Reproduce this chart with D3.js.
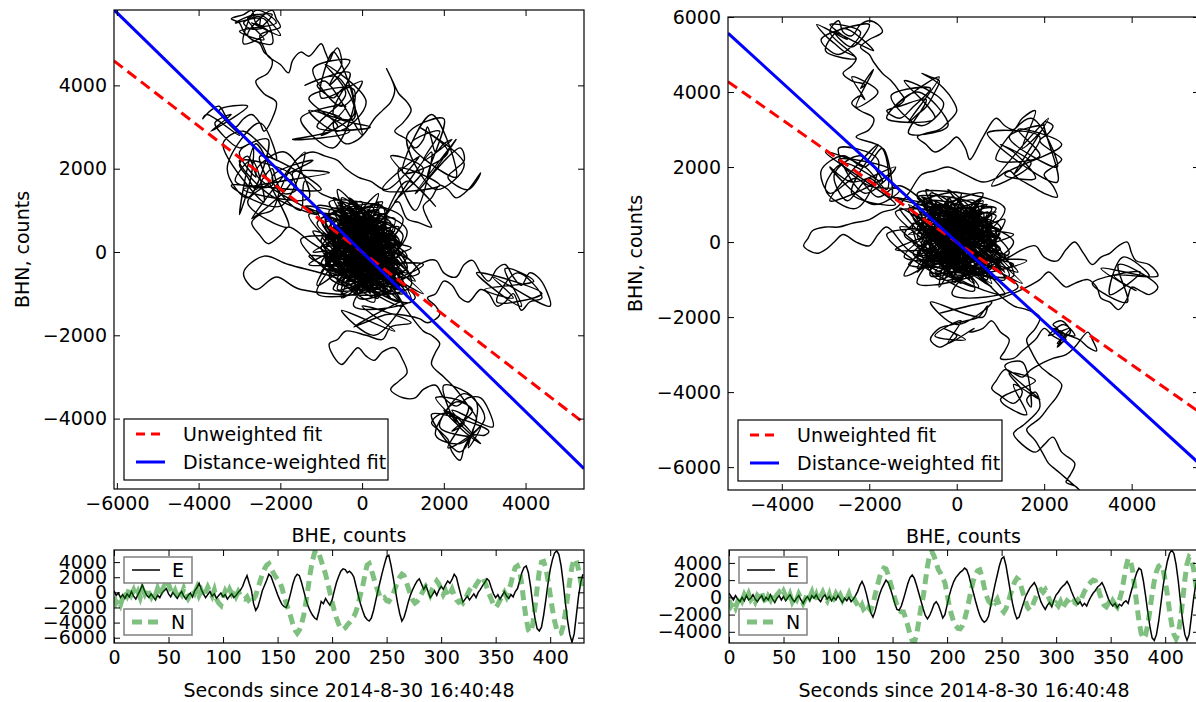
<!DOCTYPE html>
<html>
<head>
<meta charset="utf-8">
<script src="https://cdn.jsdelivr.net/npm/d3@7"></script>
<style>
  body { margin: 0; background: #fff; }
  svg text { font-family: "DejaVu Sans", sans-serif; font-size: 19px; fill: #000; }
</style>
</head>
<body>
<script>
// sample spacing of the traces, seconds
var dt = 2;

// left station, E and N traces (counts), one value every dt seconds from t=0
var eLeft = [200,-400,-100,-700,-300,-800,-200,-600,100,-500,
  -900,-300,300,1000,200,-400,-700,-200,-600,-1000,
  -400,-700,-100,200,500,-200,-600,0,-400,-800,
  -300,100,-500,-900,-400,-100,-600,200,600,1200,
  400,-200,-700,-300,100,-500,-200,-800,-400,-100,
  -600,-300,-900,-500,-200,-700,-400,0,300,800,
  1600,2200,1200,300,-1500,-2400,-1900,-900,200,900,
  1600,2400,2100,1300,500,-300,-1000,-1600,-1900,-2000,
  -1200,-100,1100,2000,2400,2200,1300,200,-900,-1800,
  -2500,-3000,-3400,-3600,-2500,-1200,-1500,-800,-1300,-1700,
  -1000,200,1300,2100,2800,3100,3000,2600,2800,2500,
  2000,800,-400,-1500,-2400,-3200,-3600,-3800,-3400,-2400,
  -1100,200,1400,2600,3700,4700,4900,3600,2000,300,
  -1400,-2800,-3800,-3300,-2300,-1200,-300,400,1000,1500,
  1800,1100,400,900,100,-700,-300,200,-400,300,
  800,400,1000,1500,1200,1700,2400,2000,800,-300,
  -1300,-900,-500,-1000,-600,-200,-700,0,400,900,
  1300,1800,1500,600,-200,-700,-300,-900,-400,100,
  -500,-800,-300,-600,100,500,1500,2600,3300,3500,
  2600,800,-1500,-3400,-4800,-5100,-4600,-3000,-1000,1200,
  3000,4300,5200,5500,5000,3500,1200,-1500,-3800,-5600,
  -6600,-5500,-3000,-500,1300,2400];

var nLeft = [-600,-1400,-900,-1600,-700,200,-400,500,-300,300,
  -500,100,-700,400,-200,600,-100,-600,200,-400,
  500,-300,300,800,400,1100,300,-400,200,-600,
  100,-300,500,-200,-800,-300,400,-100,600,-400,
  200,-600,0,700,100,-500,300,-900,-1400,-1700,
  -600,200,-300,400,-200,300,-500,100,-400,-800,
  -900,-600,-1200,-1500,-900,-400,600,1500,2400,3100,
  3600,3800,3200,2600,2100,1700,1400,600,-500,-1500,
  -2300,-3200,-4200,-5000,-5400,-5000,-4200,-3000,-1300,600,
  2600,4200,5300,5600,5100,4200,3300,2400,1200,0,
  -1300,-2400,-3400,-4200,-4800,-4900,-4700,-4300,-4000,-3600,
  -3200,-2500,-1500,-300,800,2200,3600,3800,3000,2000,
  1000,200,-600,-900,-700,-1100,-1200,-800,-200,600,
  1400,2000,2400,2200,1400,500,-300,-1000,-1400,-1200,
  -800,-200,300,800,400,-300,500,1000,1500,1100,
  400,-300,200,-600,-200,400,-400,-1000,-1300,-1100,
  -1400,-900,-300,300,700,400,1000,1400,1900,2000,
  1400,600,-200,-900,-1600,-2000,-1600,-1000,-500,0,
  -600,200,1200,2400,3300,3500,2800,1000,-1500,-3500,
  -5000,-5300,-4200,-2000,500,2800,4000,4100,3200,1600,
  -300,-2200,-3800,-4900,-5500,-5400,-4400,-2600,-500,1600,
  3400,4400,4200,3000,1400,0];

// right station, E and N traces
var eRight = [500,100,-300,200,-200,-500,0,-400,200,-300,
  -100,300,-200,-500,-100,200,-400,0,-300,300,
  -200,-600,-100,200,-300,100,-400,0,300,-200,
  -500,-100,200,-300,-700,-200,100,-400,200,-100,
  300,-200,-500,0,300,-200,100,-400,0,-300,
  200,-200,-600,-100,-400,0,-500,-200,200,700,
  1400,1860,1300,400,-700,-1800,-2300,-1600,-600,300,
  1000,1500,2000,1700,1000,200,-700,-1400,-1500,-1000,
  -200,700,1600,2300,2600,2200,1400,500,-400,-1300,
  -2100,-2500,-2100,-1500,-800,-500,-900,-1600,-2400,-2000,
  -900,200,1100,1800,2300,2600,2900,3100,3400,3200,
  2500,1500,600,-400,-1300,-2100,-2600,-2900,-2700,-2200,
  -1000,300,1500,2600,3700,4500,4700,3700,2200,700,
  -700,-1800,-2500,-2300,-1500,-700,100,600,1100,1400,
  1700,1200,300,-500,-1000,-1400,-900,-600,-1100,-300,
  300,600,1000,1300,1500,1860,1400,700,100,-400,
  -800,-500,-1000,-700,-1000,-400,100,500,800,1200,
  1400,1700,1200,500,-200,-700,-1000,-700,-1200,-800,
  -1000,-600,-400,-700,300,1200,2100,2900,3400,3200,
  1900,200,-1700,-3400,-4700,-5000,-4300,-2800,-800,1200,
  2900,4200,5100,5480,5100,3800,1900,-500,-2700,-4300,
  -5000,-4300,-2300,-200,1500,2500];

var nRight = [-300,-1000,-600,-1200,-500,100,-400,300,-200,400,
  -300,0,-500,200,-100,500,-200,-600,100,-300,
  400,-100,300,600,200,700,100,-400,300,-500,
  0,-300,400,-100,-700,-200,500,0,600,-300,
  300,-500,100,600,0,-400,300,-600,-200,400,
  -100,300,-300,200,-200,400,-300,100,-500,-900,
  -1400,-900,-1600,-1800,-1200,-1500,-800,300,1300,2300,
  3000,3400,3300,2600,1700,800,-100,-900,-1500,-1700,
  -1700,-2400,-3300,-4300,-5000,-5200,-4400,-2800,-1200,0,
  1800,3600,5000,5300,4800,4000,3200,2800,2200,1700,
  400,-1000,-2000,-2800,-3300,-3600,-3650,-3300,-2600,-1600,
  -400,800,1900,2700,3100,3200,2400,1200,200,-400,
  -700,-300,-600,-200,-900,-1400,-1700,-1300,-600,300,
  1100,1800,2200,2000,1200,300,-500,-1200,-1500,-1100,
  -400,200,700,900,600,900,300,-300,-800,-1100,
  -700,-1000,-500,-1200,-800,-400,-600,-900,-500,-700,
  -300,-600,100,700,1100,1500,1800,2000,1900,1300,
  400,-400,-900,-1100,-700,-1000,-400,-800,-1100,-300,
  600,2000,3500,4500,4300,3200,1200,-900,-2800,-4200,
  -4800,-4400,-3200,-1500,400,1900,3000,3600,3800,3300,
  2000,300,-1600,-3200,-4300,-4800,-4200,-2600,-400,2000,
  3900,4700,4500,3300,1600,-200];

// particle motion, [BHE, BHN] in counts
var motionLeft = [
  // dense core
  [0,0],[500,-300],[-200,400],[800,-600],[-600,700],[300,200],[-900,100],[1000,-900],[-300,1100],[600,-100],
  [-1200,500],[200,-700],[-500,1300],[1100,-400],[-800,-300],[400,900],[-100,-1000],[900,300],[-1300,900],[700,-1100],
  [-400,200],[1300,-700],[-700,1000],[100,-400],[-1000,-500],[600,700],[-200,-200],[1200,100],[-1500,300],[300,-1200],
  [-600,1500],[900,-300],[-300,600],[1500,-1000],[-900,700],[0,1200],[-1100,-800],[500,400],[-400,-700],[1000,800],
  [-800,1200],[200,-100],[-1300,-100],[800,-800],[-100,900],[1200,-1200],[-700,-200],[400,1400],[-500,-1000],[1100,500],
  [-1000,1400],
  // up to the upper left and the top
  [-1400,1700],
  [-1500,1000],[-2200,1800],[-1200,2200],[-2800,1200],[-1800,600],[-2500,2300],[-1000,1500],[-3200,1600],[-2000,1100],[-1400,2400],
  [-2700,800],[-1700,1800],[-3000,2200],[-2300,1400],[-1100,900],[-2600,1900],[-1900,2400],[-1300,1300],[-2900,1500],[-800,1900],
  [-1700,1900],[-1600,1500],[-1900,1400],[-2100,1700],[-2200,2000],[-2400,1800],[-2600,1500],[-2800,1800],[-3000,2100],
  [-2800,2300],
  [-2600,1800],[-3000,2400],[-2300,2700],[-2800,1300],[-3300,2000],[-2500,3100],[-2100,2200],[-2900,2900],[-3400,2600],[-2400,1200],
  [-2700,2200],[-3100,1700],[-2200,1600],[-2600,2600],[-3000,900],[-2700,1900],
  [-2700,2600],[-3000,2500],[-3400,2800],[-3600,3100],
  [-3200,3300],[-3700,2900],[-2800,3500],[-3500,3400],[-3000,2800],[-3800,3300],
  [-3900,3200],[-3700,3400],[-3500,3500],[-3300,3200],[-3100,3000],
  [-2900,3200],[-2700,3300],[-2500,3100],[-2400,2900],[-2200,3200],[-2100,3600],[-2400,3800],[-2600,4100],[-2300,4300],[-2200,4600],
  [-2400,4800],[-2500,5000],[-2700,5100],[-2900,5300],[-3000,5500],[-3200,5600],[-2900,5700],[-2700,5800],[-2600,5500],[-2400,5400],
  [-2700,5350],[-2900,5500],[-2500,5650],
  [-2500,5400],[-2200,5700],[-2800,5600],[-2400,5100],[-3000,5300],[-2100,5500],[-2600,5800],[-2900,5000],[-2300,5300],[-2700,5500],
  [-2000,5200],[-2500,5700],[-3100,5500],[-2400,5600],[-2200,5000],[-2800,5200],
  [-2200,5800],[-2100,5600],[-2000,5400],[-2300,5300],[-2500,5200],[-2400,4900],[-2300,4700],
  [-2000,4500],[-1800,4300],[-1700,4600],[-1500,4800],[-1300,4700],[-1000,5000],[-900,4800],[-800,4600],[-700,4800],[-600,4900],
  [-500,4500],[-700,4200],
  [-800,4000],[-300,4600],[-1200,4400],[-500,3500],[0,4100],[-1000,3700],[-700,4800],[-200,3200],[-1300,3400],[-600,2900],
  [100,3600],[-900,4500],[-400,3800],[-1100,3000],[200,3000],[-700,3300],[-300,4300],[-1400,4000],[-600,4200],[0,2800],
  [-900,4100],[-1100,4000],[-900,3800],[-700,3700],[-500,3900],[-300,4000],[-200,3600],[-200,3300],
  [-1000,2800],[-400,3500],[-1500,3200],[-700,2500],[-200,3900],[-1300,3700],[-600,3000],[-1700,2700],[-300,2900],[-1100,3400],
  [-500,3200],[-700,3100],[-600,2800],[-400,2600],[-100,2700],[100,2900],[300,3200],[500,3400],[700,3600],[800,3900],
  [700,4200],[600,4400],[750,4100],[900,3800],[1100,3600],[1200,3400],[1000,3100],[800,2900],[1100,2700],[1300,2500],
  [1500,2700],[1600,3000],[1700,2700],[1800,2400],[2000,2600],[2200,2700],
  [1500,2200],[1900,2900],[1200,2600],[2300,1800],[1700,3300],[1000,1900],[2100,2400],[1400,3000],[2500,2100],[1800,1500],
  [1100,2800],[2000,3200],[1600,1800],[2300,2700],[1300,1400],
  [2400,2500],[2500,2200],[2300,2000],[2100,1800],
  [2300,1600],[2600,1500],[2800,1700],[2900,1900],[2600,1500],[2300,1300],[2100,1500],[1900,1600],[1700,1300],[1500,1100],
  [1600,800],[1700,600],[1400,700],[1100,800],[900,1200],
  [800,1200],[1500,2000],[700,2300],[1800,1100],[1100,1700],[600,900],[1700,2400],[1300,1000],[900,2000],[1900,1600],
  [500,1500],[1400,2300],
  [600,1500],[200,1700],[-100,1800],[-400,2000],[-600,2200],
  [-900,2300],[-1200,2400],[-1500,2300],[-1700,2100],[-2000,1500],[-2200,1000],[-2500,900],[-2700,700],[-2500,400],[-2300,200],
  [-2000,400],[-1800,600],
  // back through the core
  [-1200,200],[600,-800],[-500,900],[1400,-500],[-900,-400],[300,1000],[-300,-800],[1100,-100],[-1400,1100],[800,400],
  [-200,-1300],[1300,-1100],[-700,400],[500,1200],[-1100,-1000],[900,-600],[0,700],[-600,-200],[1500,-300],[200,-900],
  // right wing
  [1100,-600],[1400,-300],[1800,-200],[2000,-500],[2300,-600],[2500,-300],[2700,-200],[2900,-500],[3100,-700],[3300,-400],
  [3500,-300],[3700,-600],[3900,-800],[4100,-500],[4300,-600],[4500,-900],[4600,-1300],
  [3200,-600],[3700,-1100],[3000,-900],[4200,-700],[3500,-400],[3900,-1300],[2800,-500],[4400,-1000],[3300,-1200],[3800,-500],
  [4400,-1100],[4100,-1200],[3900,-1400],
  [3700,-1000],[3500,-1200],[3300,-1300],[3100,-1000],[2900,-900],[2600,-1200],[2400,-1100],[2200,-800],[2000,-700],[1800,-1000],
  [1600,-1100],[1800,-1300],[1900,-1500],[1600,-1700],[1400,-1600],
  // down to the lower right
  [900,-1500],
  [600,-1500],[-200,-1800],[1000,-1200],[300,-2000],[-500,-1400],[800,-1900],[0,-1300],[1200,-1700],
  [700,-1800],[500,-2100],[100,-2000],[-400,-1900],[-600,-2100],[-800,-2200],[-700,-2500],[-500,-2700],[-300,-2500],
  [-100,-2300],[100,-2500],[300,-2600],[500,-2400],[800,-2300],[1000,-2600],[1100,-2900],[900,-3100],[700,-3300],[1000,-3500],
  [1300,-3500],[1500,-3300],[1800,-3200],[2000,-3500],[2300,-3700],[2600,-3500],[2900,-3500],[3100,-3800],[3200,-4200],
  [2200,-3800],[2700,-4400],[1900,-4200],[2500,-3400],[3000,-4000],[2100,-4700],[2600,-3700],[1800,-3500],[2900,-4600],[2300,-4100],
  [2000,-3200],[2800,-3600],[2400,-4800],[1700,-3900],[3100,-4300],
  [3000,-4400],
  [2700,-4400],[2500,-4700],[2400,-5000],[2200,-4800],[2100,-4500],[1900,-4300],[1700,-4100],[1900,-3900],[2200,-3900],[2400,-4200],
  [2000,-3800],[2500,-4100],[2200,-4300],[2700,-3800],[2300,-3600],[1800,-4400],[2400,-4600],[2900,-4200],
  [2600,-4700],[2700,-4300],[2800,-4000],[2600,-3700],[2300,-3300],[2000,-3000],[1700,-2700],[1800,-2400],[1900,-2200],[1700,-2000],
  [1500,-1900],
  // core again, with a loop to the left
  [800,-1000],[-400,500],[1000,200],[-1000,800],[400,-1100],[-700,-600],[-1800,-300],[-2400,-100],[-2900,-500],[-2600,-900],
  [-2100,-600],[-1500,-900],[1200,-800],[-300,1300],[700,100],[-1300,-300],[200,600],[-600,1100],[1000,-1300],[-200,-500],
  [600,900],[-900,300],
  [-200,300],[400,-500],[-600,100],[700,400],[-300,-700],[200,900],[-800,600],[600,-200],[-100,-300],[900,-800],
  [-500,1000],[300,100],[-900,-200],[500,600],[0,-900],[-700,300],[800,100],[-400,800],[100,-600],[-1000,400],
  [700,-500],[-200,1100],[400,300],[-600,-500],[1000,0],[-300,500],[200,-1000],[-800,900],[600,200],[-100,-100],
  [-500,-800],[900,600],[-700,0],[300,-300],[-200,900],[800,-1000],[-1000,100],[100,700],[500,-700],[-400,-300],
  [600,1000],[-900,800],[200,-400],[-300,200],[1100,-500],[-600,1200],[0,400],[700,-900],[-800,-600],[400,700],
  [-200,-500],[900,300],[-500,500],[200,-200],[-1100,700],[500,1100],[100,-800],[-400,1000],[800,-300],[-700,-300],
  [300,500],[-100,-1100],[1000,-700],[-900,400],[400,-100],[-300,-900],[600,800],[-600,300],[100,100],[-200,-600],
  [700,700],[-800,1000],[300,-800],[-500,-100],[900,-100],[-300,800],[200,300],[-700,-900],[600,-600],[0,1000],
  [-400,0],[800,500],[-900,-400],[400,1200],[-100,-400],[1000,-1000],[-600,800],[200,0],[-300,-200],[500,-400],
  [300,200],[-500,-600],[800,-300],[-200,900],[-900,-100],[500,-1000],[0,500],[-700,800],[1000,-500],[-400,-200],
  [600,600],[-1000,300],[200,-800],[-300,1200],[900,0],[-600,-900],[400,1000],[-800,400],[700,-800],[-100,-200],
  [1100,-1000],[-500,700],[100,300],[-1200,0],[800,800],[-200,-1000],[500,100],[-700,1300],[300,-500],[-900,600],
  [1200,-200],[-400,400],[0,-700],[-1100,1100],[700,300],[-300,-400],[900,-1200],[-600,500],[200,1100],[-800,-400],
  [600,-100],[-100,800],[1000,400],[-500,-1100],[300,700],[-1000,-300],[800,-600],[-300,1000],[100,-300],[-700,200],
  [100,200],[-500,-300],[600,500],[-700,600],[400,-600],[-200,900],[800,-200],[-600,-700],[200,700],[-900,300],
  [700,-700],[-300,100],[500,900],[-800,-100],[0,-500],[-400,700],[900,200],[-100,-800],[300,400],[-700,-400],
  [600,-400],[-500,1000],[200,-200],[-900,700],[800,600],[-300,-600],[400,100],[-600,400],[100,-900],[-200,500],
  [700,300],[-800,900],[500,-800],[-400,-100],[0,800],[900,-500],[-600,200],[300,-400],[-100,600],[600,-900],
  [-900,-200],[400,800],[-300,300],[800,-100],[-500,-800],[100,500],[-700,1000],[700,-300],[-200,-400],[500,400],
  [-800,500],[200,-700],[-400,900],[900,-800],[0,100],[-600,-500],[600,700],[-300,-200],[300,1000],[-900,0],
  [800,-600],[-100,300],[400,-100],[-700,800],[100,-600],[-500,600],[700,100],[-200,-900],[500,-200],[-800,200],
  [0,0]
];

var motionRight = [
  // dense core
  [0,0],[600,-400],[-300,500],[900,-700],[-700,600],[300,300],[-1000,0],[1100,-1000],[-400,1000],[700,-100],
  [-1300,400],[200,-800],[-600,1300],[1200,-300],[-900,-400],[500,800],[-100,-1100],[1000,400],[-1400,800],[800,-1200],
  [-500,100],[1400,-800],[-800,1100],[0,-500],[-1100,-600],[700,600],[-300,-300],[1300,200],[-1600,200],[400,-1300],
  [-700,1400],[1000,-400],[-200,700],[1500,-1100],[-1000,900],[100,1300],[-1200,-900],[600,300],[-400,-800],[1100,900],
  [-900,1300],[300,-200],
  // left cluster, then up to the top
  [-1300,1500],[-1800,1200],[-2300,1700],[-2900,1300],[-3100,1900],[-2600,2300],[-2100,2000],[-1700,2500],
  [-1500,1200],[-2000,1700],[-2500,1100],[-2800,1800],[-2200,2300],[-1700,1600],[-2600,2100],[-3000,1400],[-2300,900],[-1800,2200],
  [-2700,2500],[-2100,1300],[-1400,2000],[-2400,1600],[-2900,2000],[-1900,1000],[-1300,1400],
  [-2000,1500],[-2700,2200],[-1500,1900],[-2900,1100],[-1800,2600],[-2400,1300],[-1400,1000],[-3000,2400],[-2100,2000],[-1600,1400],
  [-1700,2500],
  [-2300,2800],[-2000,3000],[-1900,3300],[-2200,3500],[-2400,3700],[-2200,3900],
  [-2100,3800],[-2400,4400],[-1800,4000],[-2300,3600],[-1900,4600],[-2200,4100],
  [-2100,4200],[-2400,4300],[-2600,4500],[-2400,4700],
  [-2300,4900],[-2600,5100],[-2800,5300],[-3000,5500],[-3200,5800],
  [-2500,5400],[-2900,5800],[-2200,5600],[-2700,5000],[-3100,5400],[-2000,5800],[-2400,5200],[-2800,5600],[-1900,5100],[-2600,5700],
  [-3000,5100],[-2300,4900],
  [-2900,5600],[-2700,5900],[-2600,5600],[-2400,5500],[-2200,5800],
  [-2000,5900],[-1800,5800],[-1700,5600],[-2000,5400],[-2200,5200],[-2000,5000],[-1900,4800],[-1700,4500],[-1500,4300],[-1300,4000],
  [-1200,3800],[-1400,3600],[-1600,3500],[-1300,3300],
  [-1000,3600],[-600,4100],[-1500,3900],[-800,3100],[-300,3700],[-1200,4300],[-500,3300],[-1600,3300],[-900,4000],[-200,3100],
  [-1100,2900],[-700,3800],[-1400,3600],[-400,4400],
  [-1100,3200],[-900,3400],[-700,3600],[-500,4000],[-400,4300],[-600,4400],
  [-800,4500],[-500,4300],[-300,4100],[-100,3800],[0,3500],[-200,3200],[-400,3000],[-700,2900],[-900,2800],[-700,2600],
  [-500,2400],[-200,2600],[0,2800],[200,2500],[300,2200],[600,2800],[900,3300],[1100,3100],[1300,3000],[1500,3300],
  [1800,3500],
  [1500,2500],[2000,3100],[1200,2800],[2300,2000],[1700,3300],[900,2200],[1900,2300],[1400,3000],[2400,2600],[1100,1800],
  [1800,1700],[1300,2400],
  [1000,2600],[1700,2100],[800,1500],[2100,3300],[1300,1800],[1900,2800],[700,2900],[2300,1600],
  [2000,3200],[2200,3100],[2100,2900],[1900,2700],[2200,2400],[2400,2200],[2200,2000],[2000,1800],[2200,1500],
  [2300,1200],[2000,1300],[1700,1500],[1400,1700],[1200,1900],[900,1700],[600,1600],[200,1800],[-200,2000],[-500,1900],
  [-800,1800],[-1100,1300],[-1400,900],[-1700,800],[-2000,600],[-2400,500],[-2700,400],[-3000,400],[-3300,300],[-3400,100],
  [-3500,-100],[-3200,-300],[-3000,-200],[-2800,0],[-2600,200],[-2300,0],[-2000,-100],[-1800,200],[-1600,400],
  // back through the core
  [-1000,-300],[700,-600],[-600,800],[1200,-700],[-1200,200],[400,1100],[-300,-1000],[1300,0],[-1500,1200],[900,300],
  [-100,-1400],[1400,-1200],[-800,500],[600,1300],[-900,-1100],[1000,-500],[100,600],[-500,-300],[1600,-500],[300,-900],
  // right wing
  [1200,-400],[1500,-200],[1800,-100],[2000,-400],[2300,-500],[2500,-200],[2700,0],[2900,-300],[3100,-600],[3300,-400],
  [3500,-300],[3700,-100],[3900,0],[4000,-300],[4100,-500],[4400,-600],[4600,-900],
  [3600,-900],[4100,-1300],[3300,-700],[4400,-900],[3800,-400],[3500,-1400],[4200,-800],[3100,-1100],[3900,-1600],[3700,-600],
  [4600,-1200],[4400,-1400],[4200,-1300],
  [4000,-1200],[3900,-1500],[3700,-1800],[3500,-1600],[3300,-1500],[3200,-1200],[3000,-1000],[2700,-1100],[2500,-1200],[2300,-1000],
  [2100,-800],[1900,-1000],[1600,-1200],
  // down to the lower right
  [1000,-1500],
  [300,-1700],[-400,-1900],[800,-1600],[0,-2200],[-600,-1600],[600,-2000],
  [700,-1700],[500,-2000],[200,-2100],[-100,-2200],[-400,-2300],[-600,-2600],[-400,-2800],[-200,-2700],[0,-2500],
  [-300,-2300],[200,-2600],[-500,-2500],[100,-2100],[-200,-2700],[400,-2300],
  [300,-2400],[600,-2300],[800,-2100],[1000,-2400],[1200,-2600],[1100,-2900],[1000,-3100],[1300,-3100],[1500,-2900],[1800,-2600],
  [2000,-2300],[2200,-2500],[2400,-2600],[2300,-2300],[2200,-2200],[2400,-2100],[2600,-2400],[2400,-2600],[2300,-2800],[2500,-2500],
  [2200,-2300],[2500,-2600],[2300,-2700],[2600,-2300],[2100,-2500],[2450,-2200],[2700,-2500],[2300,-2400],
  [2800,-2600],[3000,-2800],[3200,-2900],[3100,-2600],[3000,-2400],[2700,-2800],[2500,-3000],[2200,-3100],[2000,-3200],[1700,-3400],
  [1500,-3600],[1300,-3500],[1100,-3400],[900,-3700],[800,-3900],[1000,-4100],[1300,-4300],
  [1500,-4000],[1200,-3500],[1800,-3700],[1000,-4200],[1600,-4600],[1300,-3800],[1900,-4200],[1100,-3300],[1500,-3200],[1700,-4400],
  [1600,-4200],[1800,-4000],[1900,-4400],
  [1700,-4700],[1500,-4900],[1300,-5100],[1500,-5400],[1800,-5600],[2000,-5400],[2200,-5200],[2400,-5600],[2700,-5900],[2600,-6200],
  [2500,-6400],[2700,-6500],[2800,-6600],[2500,-6300],[2300,-6100],[2100,-5900],[2000,-5700],[1800,-5300],[1600,-5000],[1900,-4700],
  [2100,-4400],[2300,-4100],[2400,-3800],[2100,-3500],[1900,-3300],[1700,-2900],[1600,-2600],[1800,-2300],[1900,-2000],[1600,-1800],
  [1300,-1700],
  // core again
  [700,-1100],[-400,600],[1000,100],[-1100,900],[500,-1200],[-800,-500],[1300,-900],[-200,1400],[800,200],[-1400,-200],
  [200,700],[-700,1000],[1100,-1400],[-300,-600],[600,1000],[-900,400],
  [200,-300],[-400,500],[600,100],[-700,-400],[300,900],[-900,500],[800,-600],[-200,-900],[500,700],[-600,1100],
  [1000,-200],[-300,-100],[100,-1100],[-800,200],[700,500],[-100,1000],[400,-800],[-1000,-300],[900,800],[-500,300],
  [200,-600],[-700,900],[1100,-800],[0,200],[-400,-1200],[600,1100],[-900,-700],[300,0],[-200,700],[800,-1100],
  [-1100,1000],[500,-300],[-300,400],[1000,300],[-600,-900],[100,1200],[-800,-100],[700,-700],[-400,800],[300,-1000],
  [-100,-300],[900,100],[-700,600],[400,400],[-1000,700],[600,-1000],[-200,1200],[0,-600],[-600,0],[1200,-400],
  [-300,-600],[500,900],[-900,1200],[200,100],[-500,-400],[800,700],[-100,-800],[-800,800],[1000,-600],[-300,200],
  [-200,100],[500,-700],[-800,400],[300,900],[900,-300],[-600,-800],[100,600],[-1100,200],[700,400],[-300,-500],
  [1200,-900],[-500,1100],[200,-200],[-900,-300],[600,800],[0,-1000],[-700,700],[1000,100],[-400,300],[400,-1100],
  [-1300,900],[800,-500],[-100,1200],[-600,-200],[1100,600],[200,-600],[-900,1000],[500,200],[-400,-1000],[-1000,500],
  [700,-1000],[0,400],[-700,-500],[900,900],[-300,700],[400,-300],[-1200,-400],[600,1200],[-500,0],[1300,-600],
  [-200,-800],[300,500],[-800,1200],[800,-100],[-100,-400],[-1000,800],[500,-900],[-400,600],[1000,-200],[-600,300],
  [-100,200],[500,-300],[-600,500],[700,600],[-400,-600],[200,900],[-800,-200],[600,-700],[-200,700],[900,300],
  [-700,-700],[300,100],[-500,900],[800,-100],[0,-500],[400,700],[-900,200],[100,-800],[-300,400],[700,-400],
  [-600,-400],[500,1000],[-200,-200],[900,700],[-800,600],[300,-600],[-400,100],[600,400],[-100,-900],[200,500],
  [-700,300],[800,900],[-500,-800],[400,-100],[0,800],[-900,-500],[600,200],[-300,-400],[100,600],[-600,-900],
  [900,-200],[-400,800],[300,300],[-800,-100],[500,-800],[-100,500],[700,1000],[-700,-300],[200,-400],[-500,400],
  [800,500],[-200,-700],[400,900],[-900,-800],[0,100],[600,-500],[-600,700],[300,-200],[-300,1000],[900,0],
  [-800,-600],[100,300],[-400,-100],[700,800],[-100,-600],[500,600],[-700,100],[200,-900],[-500,-200],[800,200],
  [0,0]
];

// slopes of the two fits through the origin: [unweighted, distance-weighted]
var fitLeft = [-0.756, -0.958];
var fitRight = [-0.817, -1.065];
var fitNames = ["Unweighted fit", "Distance-weighted fit"];
var fitColors = ["#ff0000", "#0000ff"];
var traceNames = ["E", "N"];

var xTicksLeft = [-6000, -4000, -2000, 0, 2000, 4000];
var yTicksLeft = [-4000, -2000, 0, 2000, 4000];
var xTicksRight = [-4000, -2000, 0, 2000, 4000];
var yTicksRight = [-6000, -4000, -2000, 0, 2000, 4000, 6000];
var tTicks = [0, 50, 100, 150, 200, 250, 300, 350, 400];
var vTicksLeft = [-6000, -4000, -2000, 0, 2000, 4000];
var vTicksRight = [-4000, -2000, 0, 2000, 4000];

var width = 1196, height = 702;

var svg = d3.select("body").append("svg")
    .attr("width", width)
    .attr("height", height);

var fmt = d3.format("d");

// draw a frame with inward ticks on all four sides
function frame(g, x, y, b, xTicks, yTicks) {
  var tick = 6;
  g.append("g").attr("transform", "translate(0," + b.bottom + ")")
    .call(d3.axisBottom(x).tickValues(xTicks).tickSizeInner(-tick).tickSizeOuter(0).tickPadding(8).tickFormat(fmt));
  g.append("g").attr("transform", "translate(0," + b.top + ")")
    .call(d3.axisTop(x).tickValues(xTicks).tickSizeInner(-tick).tickSizeOuter(0).tickFormat(""));
  g.append("g").attr("transform", "translate(" + b.left + ",0)")
    .call(d3.axisLeft(y).tickValues(yTicks).tickSizeInner(-tick).tickSizeOuter(0).tickPadding(7).tickFormat(fmt));
  g.append("g").attr("transform", "translate(" + b.right + ",0)")
    .call(d3.axisRight(y).tickValues(yTicks).tickSizeInner(-tick).tickSizeOuter(0).tickFormat(""));
  g.selectAll(".domain").remove();
  g.selectAll(".tick line").attr("stroke", "#000").attr("stroke-width", 1);
  g.append("rect")
    .attr("x", b.left).attr("y", b.top)
    .attr("width", b.right - b.left).attr("height", b.bottom - b.top)
    .attr("fill", "none").attr("stroke", "#000").attr("stroke-width", 1.2);
}

function clip(id, b) {
  svg.append("clipPath").attr("id", id).append("rect")
    .attr("x", b.left).attr("y", b.top)
    .attr("width", b.right - b.left).attr("height", b.bottom - b.top);
}

// ****************** particle motion panels ***************************
function motionPanel(p) {
  var b = p.box;
  var x = d3.scaleLinear().domain(p.xDomain).range([b.left, b.right]);
  var y = d3.scaleLinear().domain(p.yDomain).range([b.bottom, b.top]);
  clip(p.id, b);

  var g = svg.append("g").attr("clip-path", "url(#" + p.id + ")");

  g.append("path")
    .datum(p.motion)
    .attr("fill", "none")
    .attr("stroke", "#000")
    .attr("stroke-width", 1.4)
    .attr("stroke-linejoin", "round")
    .attr("d", d3.line().x(d => x(d[0])).y(d => y(d[1])).curve(d3.curveCatmullRom.alpha(0.5)));

  // fitted lines through the origin
  p.fits.forEach(function(k, i) {
    g.append("path")
      .datum(p.xDomain)
      .attr("fill", "none")
      .attr("stroke", fitColors[i])
      .attr("stroke-width", 3)
      .attr("stroke-dasharray", i == 0 ? "11,6" : null)
      .attr("d", d3.line().x(d => x(d)).y(d => y(k * d)));
  });

  var axes = svg.append("g");
  frame(axes, x, y, b, p.xTicks, p.yTicks);

  svg.append("text")
    .attr("x", (b.left + b.right) / 2)
    .attr("y", b.bottom + 53)
    .attr("text-anchor", "middle")
    .text("BHE, counts");

  svg.append("text")
    .attr("transform", "translate(" + p.yLabelX + "," + (b.top + b.bottom) / 2 + ") rotate(-90)")
    .attr("text-anchor", "middle")
    .text("BHN, counts");

  // legend, lower left
  var lg = svg.append("g").attr("transform", "translate(" + (b.left + 10) + "," + (b.bottom - 70) + ")");
  lg.append("rect").attr("width", 264).attr("height", 61)
    .attr("fill", "#fff").attr("stroke", "#000").attr("stroke-width", 1.2);
  fitNames.forEach(function(name, i) {
    var cy = 15 + i * 28;
    lg.append("line")
      .attr("x1", 12).attr("x2", 41).attr("y1", cy).attr("y2", cy)
      .attr("stroke", fitColors[i]).attr("stroke-width", 3)
      .attr("stroke-dasharray", i == 0 ? "9,6" : null);
    lg.append("text").attr("x", 59).attr("y", cy + 7).text(name);
  });
}

// ****************** trace panels ***************************
function tracePanel(p) {
  var b = p.box;
  var x = d3.scaleLinear().domain([0, 431]).range([b.left, b.right]);
  var y = d3.scaleLinear().domain(p.vDomain).range([b.bottom, b.top]);
  clip(p.id, b);

  var g = svg.append("g").attr("clip-path", "url(#" + p.id + ")");
  var line = d3.line().x((d, i) => x(i * dt)).y(d => y(d));

  g.append("path").datum(p.e)
    .attr("fill", "none").attr("stroke", "#000").attr("stroke-width", 1.5)
    .attr("d", line);

  g.append("path").datum(p.n)
    .attr("fill", "none").attr("stroke", "#008000").attr("stroke-opacity", 0.5)
    .attr("stroke-width", 5).attr("stroke-dasharray", "10,6")
    .attr("d", line);

  var axes = svg.append("g");
  frame(axes, x, y, b, tTicks, p.vTicks);

  svg.append("text")
    .attr("x", (b.left + b.right) / 2)
    .attr("y", b.bottom + 54)
    .attr("text-anchor", "middle")
    .text("Seconds since 2014-8-30 16:40:48");

  // two small legends: E at the top, N at the bottom
  traceNames.forEach(function(name, i) {
    var top = i == 0 ? b.top + 7 : b.bottom - 34;
    var lg = svg.append("g").attr("transform", "translate(" + (b.left + 10) + "," + top + ")");
    lg.append("rect").attr("width", 68).attr("height", 26)
      .attr("fill", "#fff").attr("stroke", "#808080").attr("stroke-width", 1.5);
    lg.append("line")
      .attr("x1", 8).attr("x2", 36).attr("y1", 13).attr("y2", 13)
      .attr("stroke", i == 0 ? "#000" : "#008000")
      .attr("stroke-opacity", i == 0 ? 1 : 0.5)
      .attr("stroke-width", i == 0 ? 1.5 : 5)
      .attr("stroke-dasharray", i == 0 ? null : "10,6");
    lg.append("text").attr("x", 54).attr("y", 20).attr("text-anchor", "middle").text(name);
  });
}

motionPanel({
  id: "clipML", box: {left: 114, right: 584, top: 10, bottom: 489},
  xDomain: [-6070, 5430], yDomain: [-5690, 5810],
  motion: motionLeft, fits: fitLeft,
  xTicks: xTicksLeft, yTicks: yTicksLeft, yLabelX: 29
});

motionPanel({
  id: "clipMR", box: {left: 728, right: 1199, top: 17, bottom: 490},
  xDomain: [-5230, 5540], yDomain: [-6610, 6000],
  motion: motionRight, fits: fitRight,
  xTicks: xTicksRight, yTicks: yTicksRight, yLabelX: 642
});

tracePanel({
  id: "clipTL", box: {left: 114, right: 584, top: 550, bottom: 643},
  vDomain: [-6700, 5600], e: eLeft, n: nLeft, vTicks: vTicksLeft
});

tracePanel({
  id: "clipTR", box: {left: 729, right: 1199, top: 550, bottom: 643},
  vDomain: [-5300, 5500], e: eRight, n: nRight, vTicks: vTicksRight
});
</script>
</body>
</html>
